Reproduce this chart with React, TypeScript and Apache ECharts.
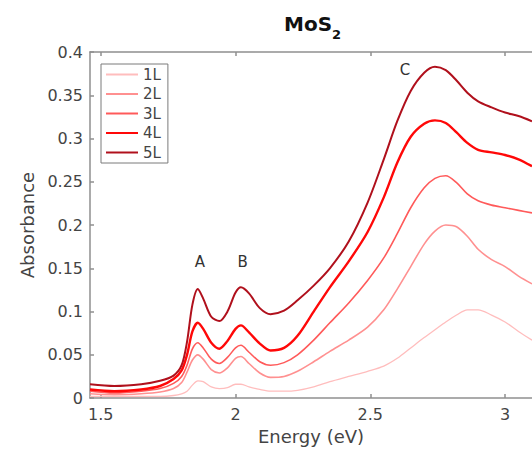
import React, { useEffect, useRef } from "react";
import * as echarts from "echarts";

const energy = [1.46, 1.55, 1.65, 1.72, 1.77, 1.8, 1.82, 1.84, 1.86, 1.88, 1.91, 1.94, 1.97, 2.0, 2.02, 2.05, 2.09, 2.13, 2.18, 2.23, 2.29, 2.35, 2.42, 2.49, 2.55, 2.6, 2.65, 2.7, 2.74, 2.78, 2.82, 2.86, 2.9, 2.95, 3.0, 3.05, 3.1];

const l1 = [0.002, 0.002, 0.002, 0.002, 0.003, 0.005, 0.008, 0.015, 0.02, 0.019, 0.013, 0.011, 0.012, 0.016, 0.016, 0.013, 0.01, 0.008, 0.008, 0.009, 0.013, 0.019, 0.025, 0.031, 0.037, 0.046, 0.058, 0.07, 0.079, 0.088, 0.096, 0.102, 0.102, 0.096, 0.088, 0.077, 0.067];
const l2 = [0.005, 0.004, 0.005, 0.007, 0.011, 0.018, 0.03, 0.044, 0.05, 0.045, 0.033, 0.029, 0.035, 0.046, 0.048, 0.04, 0.029, 0.024, 0.025, 0.031, 0.042, 0.054, 0.067, 0.082, 0.102, 0.126, 0.152, 0.178, 0.193, 0.2, 0.198, 0.187, 0.172, 0.16, 0.152, 0.141, 0.132];
const l3 = [0.008, 0.006, 0.008, 0.011, 0.017, 0.025, 0.038, 0.057, 0.064, 0.058, 0.045, 0.04, 0.047, 0.058, 0.061, 0.053, 0.042, 0.038, 0.041, 0.05, 0.067, 0.087, 0.11, 0.136, 0.162, 0.19, 0.22, 0.243, 0.254, 0.257, 0.249, 0.236, 0.228, 0.223, 0.22, 0.217, 0.214];
const l4 = [0.01, 0.008, 0.01, 0.014, 0.022, 0.032, 0.05, 0.077, 0.087, 0.08, 0.064, 0.057, 0.066, 0.08, 0.084, 0.076, 0.063, 0.055, 0.058, 0.072, 0.1, 0.128, 0.158, 0.192, 0.232, 0.272, 0.302, 0.317, 0.321, 0.318, 0.307, 0.295, 0.287, 0.284, 0.281, 0.276, 0.268];
const l5 = [0.016, 0.014, 0.016, 0.02, 0.026, 0.038, 0.065, 0.108, 0.126, 0.115, 0.094, 0.089, 0.1, 0.122, 0.128, 0.121, 0.104, 0.097, 0.101, 0.113, 0.13, 0.15, 0.181, 0.226, 0.276, 0.32, 0.355, 0.376, 0.383, 0.379, 0.367, 0.353, 0.343, 0.336, 0.33, 0.326, 0.32];

const seriesNames = ["1L", "2L", "3L", "4L", "5L"];
const seriesValues = [l1, l2, l3, l4, l5];
const seriesColors = ["#ffbdbd", "#ff9090", "#ff5a5a", "#ff0808", "#b0101c"];
const seriesWidths = [1.3, 1.6, 1.6, 2.4, 2.0];

const xTicks = [1.5, 2, 2.5, 3];
const peakLabels = [
  { name: "A", coord: [1.868, 0.157] },
  { name: "B", coord: [2.026, 0.157] },
  { name: "C", coord: [2.629, 0.379] },
];

const FONT = "DejaVu Sans";

export default function App() {
  const ref = useRef<HTMLDivElement>(null);
  useEffect(() => {
    if (!ref.current) return;
    const chart = echarts.init(ref.current, undefined, { renderer: "svg" });
    const axisLineStyle = { color: "#8f8f8f", width: 1.5 };
    const series: any[] = seriesNames.map((name, i) => ({
      name,
      type: "line",
      smooth: 0.3,
      symbol: "none",
      data: energy.map((e, j) => [e, seriesValues[i][j]]),
      lineStyle: { color: seriesColors[i], width: seriesWidths[i] },
      itemStyle: { color: seriesColors[i] },
      z: 2 + i,
    }));
    series[4].markPoint = {
      symbol: "circle",
      symbolSize: 0,
      silent: true,
      label: {
        show: true,
        position: "inside",
        formatter: "{b}",
        color: "#333",
        fontSize: 15,
        fontFamily: FONT,
      },
      data: peakLabels.map((p) => ({ name: p.name, coord: p.coord })),
    };
    chart.setOption({
      animation: false,
      backgroundColor: "#ffffff",
      grid: { left: 90, top: 52, right: -4, bottom: 50, containLabel: false },
      legend: {
        orient: "vertical",
        left: 101,
        top: 64,
        padding: [3, 7, 3, 4],
        itemGap: 4.5,
        itemWidth: 32,
        itemHeight: 14,
        borderColor: "#7a7a7a",
        borderWidth: 1,
        backgroundColor: "#ffffff",
        itemStyle: { opacity: 0 },
        textStyle: { fontFamily: FONT, fontSize: 15, color: "#444", lineHeight: 14, padding: [0, 0, 0, 0] },
        data: seriesNames,
      },
      xAxis: [
        {
          type: "value",
          min: 1.46,
          max: 3.1,
          name: "Energy (eV)",
          nameLocation: "middle",
          nameGap: 25,
          nameTextStyle: { fontFamily: FONT, fontSize: 18, color: "#444" },
          axisLine: { show: true, onZero: false, lineStyle: axisLineStyle },
          axisTick: { show: true, inside: true, length: 4, customValues: xTicks, lineStyle: axisLineStyle },
          axisLabel: { customValues: xTicks, margin: 8, fontFamily: FONT, fontSize: 16, color: "#444" },
          splitLine: { show: false },
        },
        {
          type: "value",
          position: "top",
          min: 1.46,
          max: 3.1,
          axisLine: { show: true, onZero: false, lineStyle: axisLineStyle },
          axisTick: { show: true, inside: true, length: 4, customValues: xTicks, lineStyle: axisLineStyle },
          axisLabel: { show: false },
          splitLine: { show: false },
        },
      ],
      yAxis: {
        type: "value",
        min: 0,
        max: 0.4,
        interval: 0.05,
        name: "Absorbance",
        nameLocation: "middle",
        nameGap: 53,
        nameTextStyle: { fontFamily: FONT, fontSize: 18, color: "#444" },
        axisLine: { show: true, onZero: false, lineStyle: axisLineStyle },
        axisTick: { show: true, inside: true, length: 4, lineStyle: axisLineStyle },
        axisLabel: {
          margin: 7,
          fontFamily: FONT,
          fontSize: 16,
          color: "#444",
          formatter: (v: number) => String(Math.round(v * 100) / 100),
        },
        splitLine: { show: false },
      },
      graphic: [
        {
          type: "text",
          left: 284,
          top: 14,
          style: { text: "MoS", fontFamily: FONT, fontSize: 20, fontWeight: "bold", fill: "#111" },
        },
        {
          type: "text",
          left: 332,
          top: 28,
          style: { text: "2", fontFamily: FONT, fontSize: 13, fontWeight: "bold", fill: "#111" },
        },
      ],
      series,
    });
    return () => chart.dispose();
  }, []);
  return (
    <div
      ref={ref}
      style={{ position: "fixed", left: 0, top: 0, width: 532, height: 450 }}
    />
  );
}
